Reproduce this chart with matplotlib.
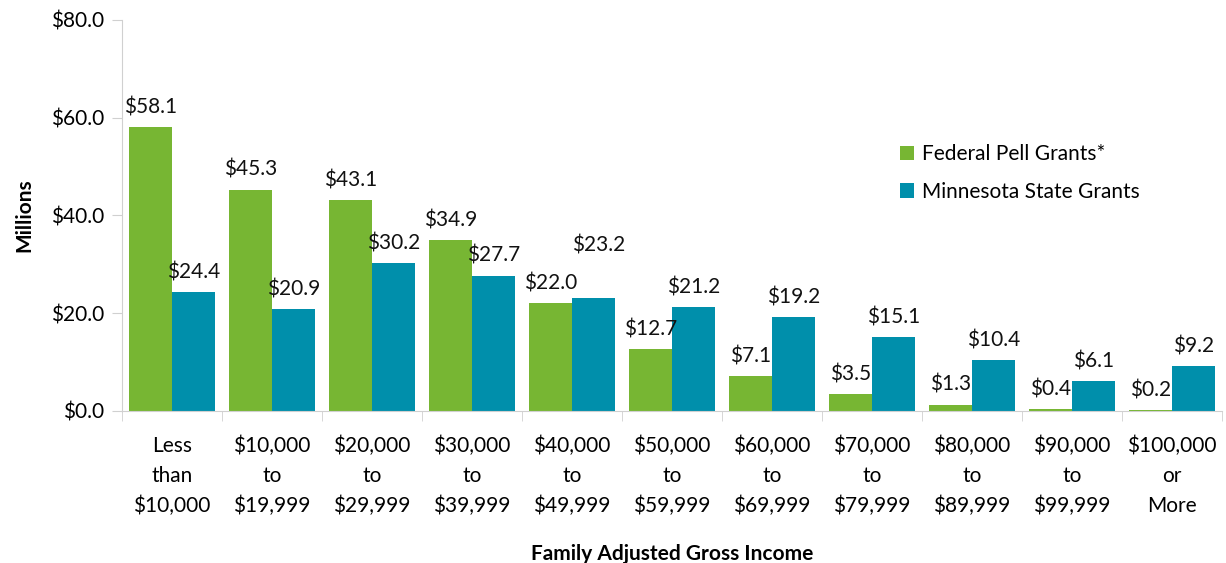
import numpy as np
import matplotlib.pyplot as plt

plt.rcParams['font.family'] = ['Lato', 'DejaVu Sans']

categories = ['Less\nthan\n$10,000', '$10,000\nto\n$19,999', '$20,000\nto\n$29,999',
              '$30,000\nto\n$39,999', '$40,000\nto\n$49,999', '$50,000\nto\n$59,999',
              '$60,000\nto\n$69,999', '$70,000\nto\n$79,999', '$80,000\nto\n$89,999',
              '$90,000\nto\n$99,999', '$100,000\nor\nMore']
pell = [58.1, 45.3, 43.1, 34.9, 22.0, 12.7, 7.1, 3.5, 1.3, 0.4, 0.2]
state = [24.4, 20.9, 30.2, 27.7, 23.2, 21.2, 19.2, 15.1, 10.4, 6.1, 9.2]

green = '#77B633'
teal = '#008FAB'

fig = plt.figure(figsize=(12.26, 5.63), dpi=100)
ax = fig.add_axes([0.0995, 0.27, 0.897, 0.6945])

x = np.arange(len(categories))
w = 0.43
b1 = ax.bar(x - w/2, pell, w, color=green, label='Federal Pell Grants*')
b2 = ax.bar(x + w/2, state, w, color=teal, label='Minnesota State Grants')

for k, bars in enumerate((b1, b2)):
    for i, r in enumerate(bars):
        dy = 7
        dx = 0
        if k == 1 and i == 4:
            # label pushed up so it clears the $22.0 label
            dy, dx = 30, 4
        ax.annotate('$%.1f' % r.get_height(), (r.get_x() + r.get_width()/2, r.get_height()),
                    xytext=(dx, dy), textcoords='offset points', ha='center', va='bottom',
                    fontsize=15, color='#111111')

ax.set_xlim(-0.5, len(categories) - 0.5)
ax.set_ylim(0, 80)
ax.set_yticks([0, 20, 40, 60, 80])
ax.set_yticklabels(['$%.1f' % v for v in [0, 20, 40, 60, 80]], fontsize=15)
ax.set_xticks(x)
ax.set_xticklabels(categories, fontsize=15, linespacing=1.6)
ax.set_xticks(np.arange(len(categories) + 1) - 0.5, minor=True)
ax.tick_params(axis='x', which='major', length=0, pad=18)
ax.tick_params(axis='x', which='minor', length=7, color='#d0d0d0')
ax.tick_params(axis='y', length=7, color='#d0d0d0', pad=6)

for s in ('top', 'right'):
    ax.spines[s].set_visible(False)
ax.spines['left'].set_color('#d0d0d0')
ax.spines['bottom'].set_color('#d0d0d0')

ax.set_ylabel('Millions', fontsize=15, fontweight='bold', labelpad=12)
ax.set_xlabel('Family Adjusted Gross Income', fontsize=15, fontweight='bold', labelpad=20)

ax.legend(loc='upper left', bbox_to_anchor=(0.69, 0.73), frameon=False, fontsize=15,
          handlelength=0.7, handleheight=0.7, handletextpad=0.4, labelspacing=0.85)

fig.savefig('out.png', dpi=100)
